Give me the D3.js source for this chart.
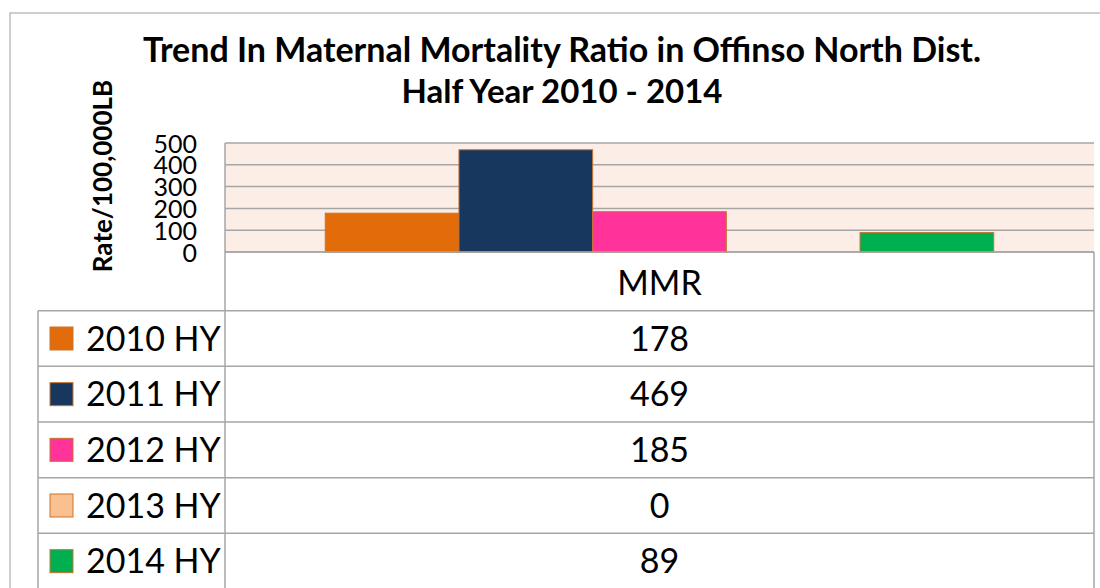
<!DOCTYPE html>
<html>
<head>
<meta charset="utf-8">
<script src="https://cdn.jsdelivr.net/npm/d3@7"></script>
<style>
  body { margin: 0; background: #fff; }
  text { font-family: Lato, "Liberation Sans", sans-serif; fill: #000; }
</style>
</head>
<body>
<div class="chart"></div>
<script>

// data
const categories = ["MMR"];
const seriesNames = ["2010 HY", "2011 HY", "2012 HY", "2013 HY", "2014 HY"];
const seriesValues = [178, 469, 185, 0, 89];
const seriesColors = ["#E36C0A", "#17375E", "#FF3399", "#FAC090", "#00B050"];
const yTicks = [0, 100, 200, 300, 400, 500];
const titleLines = ["Trend In Maternal Mortality Ratio in Offinso North Dist.", "Half Year 2010 - 2014"];
const yLabel = "Rate/100,000LB";

function drawChart(){

    d3.select(".chart").selectAll("*").remove();

    const W = 1100, H = 588;

    const plot = { left: 225, right: 1094, top: 143, bottom: 252 };
    const tableLeft = 38;

    const svg = d3.select(".chart")
        .append("svg")
        .attr("width", W)
        .attr("height", H);

    // outer border
    svg.append("rect")
        .attr("x", 10)
        .attr("y", 13)
        .attr("width", W + 20)
        .attr("height", H + 20)
        .attr("fill", "#fff")
        .attr("stroke", "#BFBFBF")
        .attr("stroke-width", 1.5);

    // title
    svg.append("g")
        .selectAll("text")
        .data(titleLines)
        .enter()
        .append("text")
        .attr("x", 562)
        .attr("y", (d, i) => 62 + i * 41)
        .attr("text-anchor", "middle")
        .attr("font-weight", "bold")
        .attr("font-size", (d, i) => i === 0 ? "34px" : "33px")
        .text(d => d);

    // scales
    const x0 = d3.scaleBand()
        .domain(categories)
        .range([plot.left, plot.right]);

    const x1 = d3.scaleBand()
        .domain(seriesNames)
        .range([0, x0.bandwidth()])
        .paddingOuter(0.75);

    const y = d3.scaleLinear()
        .domain([0, 500])
        .range([plot.bottom, plot.top]);

    // plot background
    svg.append("rect")
        .attr("x", plot.left)
        .attr("y", plot.top)
        .attr("width", plot.right - plot.left)
        .attr("height", plot.bottom - plot.top)
        .attr("fill", "#FCEDE6");

    // gridlines
    svg.append("g")
        .selectAll("line")
        .data(yTicks)
        .enter()
        .append("line")
        .attr("x1", plot.left)
        .attr("x2", plot.right)
        .attr("y1", d => y(d))
        .attr("y2", d => y(d))
        .attr("stroke", "#A6A6A6")
        .attr("stroke-width", 1.5);

    // y axis
    const yAxis = svg.append("g")
        .attr("transform", `translate(${plot.left - 28},0)`)
        .call(d3.axisLeft(y).tickValues(yTicks).tickSize(0).tickPadding(0));

    yAxis.select(".domain").remove();
    yAxis.selectAll("text")
        .attr("font-family", "Lato, sans-serif")
        .attr("font-size", "25px")
        .attr("fill", "#000")
        .attr("dy", "0.36em");

    svg.append("text")
        .attr("transform", "translate(112,176) rotate(-90)")
        .attr("text-anchor", "middle")
        .attr("font-weight", "bold")
        .attr("font-size", "26px")
        .text(yLabel);

    // bars
    const barData = seriesNames.map((s, i) => ({
        cat: categories[0],
        name: s,
        value: seriesValues[i],
        color: seriesColors[i]
    }));

    svg.append("g")
        .selectAll("rect")
        .data(barData.filter(d => d.value > 0))
        .enter()
        .append("rect")
        .attr("x", d => x0(d.cat) + x1(d.name))
        .attr("y", d => y(d.value))
        .attr("width", x1.bandwidth())
        .attr("height", d => y(0) - y(d.value))
        .attr("fill", d => d.color)
        .attr("stroke", "#C8742F")
        .attr("stroke-width", 1);

    // data table
    const rows = ["header"].concat(seriesNames);
    const rowY = d3.scaleBand()
        .domain(rows)
        .range([255, 589]);

    const grid = svg.append("g")
        .attr("stroke", "#A6A6A6")
        .attr("stroke-width", 1.5);

    grid.append("line")
        .attr("x1", plot.left).attr("x2", plot.right)
        .attr("y1", plot.bottom).attr("y2", plot.bottom);

    grid.selectAll(".rowline")
        .data(seriesNames.concat(["end"]))
        .enter()
        .append("line")
        .attr("class", "rowline")
        .attr("x1", tableLeft).attr("x2", plot.right)
        .attr("y1", d => d === "end" ? 589 : rowY(d))
        .attr("y2", d => d === "end" ? 589 : rowY(d));

    grid.append("line")
        .attr("x1", plot.left).attr("x2", plot.left)
        .attr("y1", plot.top).attr("y2", H);

    grid.append("line")
        .attr("x1", plot.right).attr("x2", plot.right)
        .attr("y1", plot.bottom).attr("y2", H);

    grid.append("line")
        .attr("x1", tableLeft).attr("x2", tableLeft)
        .attr("y1", rowY(seriesNames[0])).attr("y2", H);

    const colMid = (plot.left + plot.right) / 2;

    svg.append("text")
        .attr("x", colMid)
        .attr("y", rowY("header") + rowY.bandwidth() / 2)
        .attr("dy", "0.36em")
        .attr("text-anchor", "middle")
        .attr("font-size", "34px")
        .text(categories[0]);

    const row = svg.append("g")
        .selectAll("g")
        .data(barData)
        .enter()
        .append("g")
        .attr("transform", d => `translate(0,${rowY(d.name) + rowY.bandwidth() / 2})`);

    row.append("rect")
        .attr("x", 50)
        .attr("y", -11.5)
        .attr("width", 23)
        .attr("height", 23)
        .attr("fill", d => d.color)
        .attr("stroke", "#C8742F")
        .attr("stroke-width", 1);

    row.append("text")
        .attr("x", 86)
        .attr("dy", "0.36em")
        .attr("font-size", "34px")
        .text(d => d.name);

    row.append("text")
        .attr("x", colMid)
        .attr("dy", "0.36em")
        .attr("text-anchor", "middle")
        .attr("font-size", "34px")
        .text(d => d.value);
}

drawChart();
</script>
</body>
</html>
